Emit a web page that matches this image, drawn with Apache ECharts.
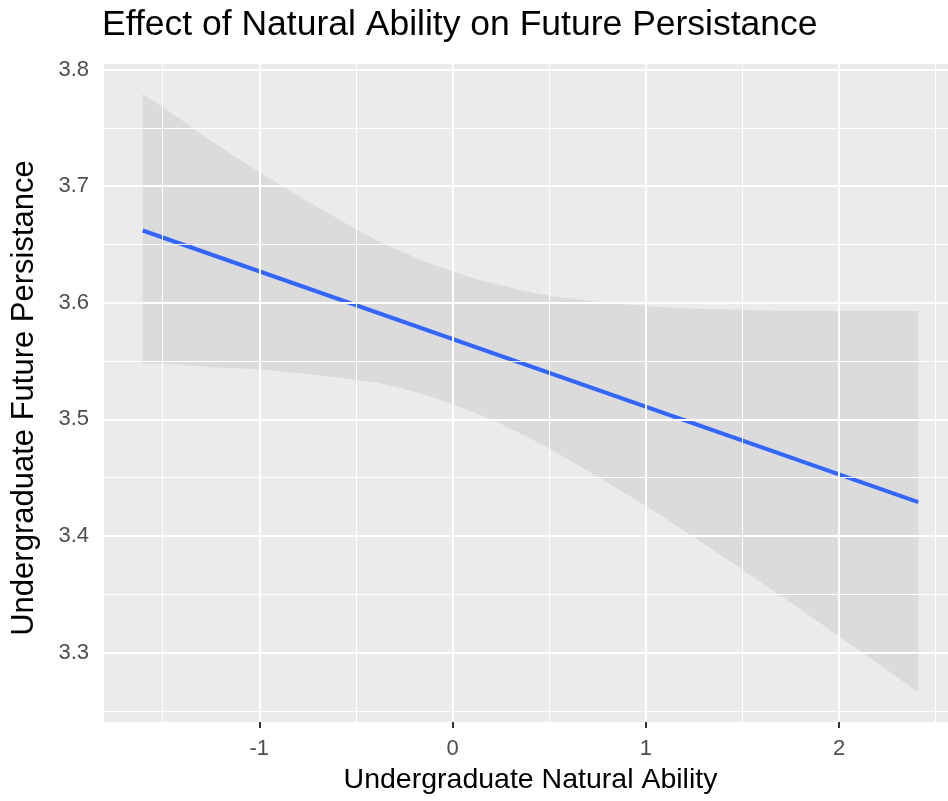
<!DOCTYPE html>
<html>
<head>
<meta charset="utf-8">
<title>Effect of Natural Ability on Future Persistance</title>
<script src="https://cdn.jsdelivr.net/npm/echarts@6/dist/echarts.min.js"></script>
<style>
  html, body { margin: 0; padding: 0; background: #fff; }
  #chart { width: 948px; height: 801px; }
</style>
</head>
<body>
<div id="chart"></div>
<script>
  // ribbon (95% CI)
  var ribbonX = [-1.603, -1.5, -1.25, -1, -0.75, -0.5, -0.375, -0.25, -0.125, 0, 0.125, 0.25, 0.375, 0.5, 0.75, 1, 1.25, 1.5, 1.75, 2, 2.25, 2.41];
  var ribbonUpper = [3.779, 3.768, 3.739, 3.712, 3.687, 3.663, 3.652, 3.643, 3.634, 3.627, 3.620, 3.615, 3.610, 3.606, 3.601, 3.597, 3.595, 3.594, 3.593, 3.593, 3.593, 3.593];
  var ribbonLower = [3.548, 3.548, 3.545, 3.543, 3.539, 3.534, 3.531, 3.526, 3.520, 3.513, 3.505, 3.496, 3.486, 3.475, 3.451, 3.426, 3.399, 3.371, 3.343, 3.314, 3.285, 3.266];
  // fitted line ends
  var fitX = [-1.603, 2.41];
  var fitY = [3.662, 3.429];
  // axis ticks and grid
  var xMajor = [-1, 0, 1, 2];
  var xMinor = [-1.5, -0.5, 0.5, 1.5, 2.5];
  var yMajor = [3.3, 3.4, 3.5, 3.6, 3.7, 3.8];
  var yMinor = [3.25, 3.35, 3.45, 3.55, 3.65, 3.75];

  var FONT = '"Liberation Sans", Arial, Helvetica, sans-serif';

  var gridLines = [];
  xMinor.forEach(function (v) { gridLines.push({ xAxis: v, lineStyle: { width: 1 } }); });
  yMinor.forEach(function (v) { gridLines.push({ yAxis: v, lineStyle: { width: 1 } }); });
  xMajor.forEach(function (v) { gridLines.push({ xAxis: v, lineStyle: { width: 2 } }); });
  yMajor.forEach(function (v) { gridLines.push({ yAxis: v, lineStyle: { width: 2 } }); });

  var chart = echarts.init(document.getElementById('chart'));
  chart.setOption({
    animation: false,
    title: {
      text: 'Effect of Natural Ability on Future Persistance',
      left: 102,
      top: 7,
      padding: 0,
      textStyle: { fontFamily: FONT, fontSize: 35.5, fontWeight: 'normal', color: '#000' }
    },
    grid: {
      left: 104, right: -9, top: 64, bottom: 79,
      outerBoundsMode: 'none',
      containLabel: false,
      show: true, backgroundColor: '#EBEBEB', borderWidth: 0
    },
    xAxis: {
      type: 'value',
      min: -1.8037, max: 2.6107,
      name: 'Undergraduate Natural Ability',
      nameLocation: 'middle',
      nameGap: 44,
      nameTextStyle: { fontFamily: FONT, fontSize: 28.5, color: '#000' },
      axisLine: { show: false },
      axisTick: { show: true, customValues: xMajor, length: 6, lineStyle: { color: '#333', width: 2 } },
      axisLabel: { customValues: xMajor, margin: 16, fontFamily: FONT, fontSize: 22, color: '#4D4D4D' },
      splitLine: { show: false }
    },
    yAxis: {
      type: 'value',
      min: 3.2405, max: 3.8048,
      name: 'Undergraduate Future Persistance',
      nameLocation: 'middle',
      nameGap: 64,
      nameTextStyle: { fontFamily: FONT, fontSize: 31, color: '#000', padding: [0, 10, 0, 0] },
      axisLine: { show: false },
      axisTick: { show: true, customValues: yMajor, length: 6, lineStyle: { color: '#333', width: 2 } },
      axisLabel: {
        customValues: yMajor, margin: 15, fontFamily: FONT, fontSize: 22, color: '#4D4D4D',
        formatter: function (v) { return v.toFixed(1); }
      },
      splitLine: { show: false }
    },
    series: [
      {
        // carries the panel grid lines
        type: 'line',
        z: 1,
        silent: true,
        showSymbol: false,
        lineStyle: { opacity: 0, width: 0 },
        data: fitX.map(function (x, i) { return [x, fitY[i]]; }),
        markLine: {
          silent: true,
          symbol: ['none', 'none'],
          label: { show: false },
          lineStyle: { color: '#FFFFFF', type: 'solid' },
          data: gridLines
        }
      },
      {
        type: 'custom',
        z: 2,
        silent: true,
        data: [0],
        renderItem: function (params, api) {
          var pts = [];
          for (var i = 0; i < ribbonX.length; i++) pts.push(api.coord([ribbonX[i], ribbonUpper[i]]));
          for (var j = ribbonX.length - 1; j >= 0; j--) pts.push(api.coord([ribbonX[j], ribbonLower[j]]));
          return {
            type: 'polygon',
            shape: { points: pts },
            style: { fill: 'rgba(153,153,153,0.2)' }
          };
        }
      },
      {
        type: 'line',
        z: 3,
        silent: true,
        showSymbol: false,
        data: fitX.map(function (x, i) { return [x, fitY[i]]; }),
        lineStyle: { color: '#3366FF', width: 4, cap: 'butt' }
      }
    ]
  });
</script>
</body>
</html>
